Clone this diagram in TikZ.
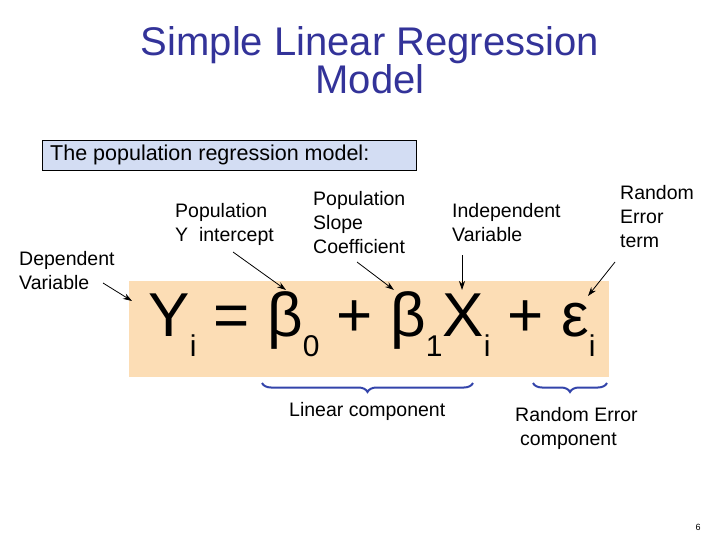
\documentclass[tikz,border=0pt]{standalone}
\usepackage{fontspec}
\setmainfont{Liberation Sans}
\usetikzlibrary{decorations.pathreplacing,arrows.meta}
\definecolor{titleblue}{HTML}{333399}
\definecolor{boxblue}{HTML}{D3DDF3}
\definecolor{peach}{HTML}{FCDDB5}
\definecolor{bracecol}{HTML}{3344AA}
\newcommand{\sbs}[1]{\raisebox{-0.32em}{\fontsize{30}{30}\selectfont #1}}
\begin{document}
\begin{tikzpicture}[x=1pt,y=-1pt,
  lbl/.style={font=\fontsize{19.5}{24}\selectfont, align=left, anchor=north west, inner sep=0pt},
  arr/.style={-{Stealth[length=9pt,width=6pt]}, line width=0.8pt},
  brc/.style={decorate, decoration={brace, amplitude=9pt, mirror}, draw=bracecol, line width=2pt}]
\useasboundingbox (0,0) rectangle (720,540);
\node[font=\fontsize{40}{36}\selectfont, text=titleblue, align=center] (title) at (370,60) {Simple Linear Regression\\Model};
\node[draw=black, fill=boxblue, minimum width=374pt, minimum height=30pt, anchor=north west, inner sep=0pt] (pop) at (42,140) {};
\node[font=\fontsize{21.5}{22}\selectfont, anchor=west, inner sep=0pt] (poptxt) at (50,155) {The population regression model:};
\node[fill=peach, minimum width=480pt, minimum height=96pt, anchor=north west, inner sep=0pt] (eqbox) at (129,281) {};
\node[font=\fontsize{62}{62}\selectfont, inner sep=0pt] (eq) at (372,324) {Y\sbs{i} = β\sbs{0} + β\sbs{1}X\sbs{i} + ε\sbs{i}};
\node[lbl] (yint) at (175,203) {Population\\Y~ intercept};
\node[lbl] (slope) at (313,191) {Population\\Slope\\Coefficient};
\node[lbl] (indep) at (452,203) {Independent\\Variable};
\node[lbl] (rand) at (620,185) {Random\\Error\\term};
\node[lbl] (dep) at (19,251) {Dependent\\Variable};
\coordinate (t1) at (286,290); \coordinate (t2) at (394,290);
\coordinate (t3) at (462,290); \coordinate (t4) at (588,296);
\coordinate (t5) at (132,301);
\draw[arr] (233,252) -- (t1);
\draw[arr] (357,262) -- (t2);
\draw[arr] (462,255) -- (t3);
\draw[arr] (615,262) -- (t4);
\draw[arr] (103,283) -- (t5);
\coordinate (b1) at (262,383); \coordinate (b2) at (473,383);
\coordinate (b3) at (533,383); \coordinate (b4) at (607,383);
\draw[brc] (b1) -- (b2);
\draw[brc] (b3) -- (b4);
\node[lbl] (lin) at (289,402) {Linear component};
\node[lbl] (rec) at (515,407) {Random Error\\\hspace*{5pt}component};
\node[font=\fontsize{9}{9}\selectfont] (pg) at (698,527) {6};
\end{tikzpicture}
\end{document}
